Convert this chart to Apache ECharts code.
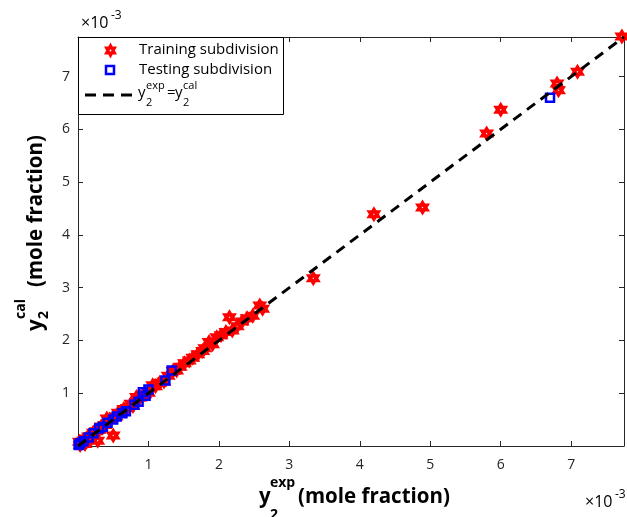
<!DOCTYPE html>
<html>
<head>
<meta charset="utf-8">
<script src="https://cdn.jsdelivr.net/npm/echarts@6/dist/echarts.min.js"></script>
<style>html,body{margin:0;padding:0;background:#fff;}#c{width:627px;height:517px;}</style>
</head>
<body>
<div id="c"></div>
<script>
// values in units of 1e-3 mole fraction
var trainExp = [7.72, 7.09, 6.80, 6.82, 6.00, 5.80, 4.89, 4.20, 3.34, 2.62, 2.58, 2.48, 2.40, 2.33, 2.15, 2.26, 2.19, 2.10, 2.03, 1.97, 1.91, 1.86, 1.80, 1.77, 1.70, 1.63, 1.58, 1.51, 1.45, 1.40, 1.35, 1.28, 1.22, 1.16, 1.10, 1.06, 1.00, 0.95, 0.88, 0.83, 0.78, 0.75, 0.70, 0.65, 0.60, 0.57, 0.54, 0.50, 0.45, 0.41, 0.38, 0.33, 0.30, 0.28, 0.26, 0.22, 0.18, 0.15, 0.12, 0.10, 0.08, 0.05, 0.03, 0.02];
var trainCal = [7.76, 7.09, 6.87, 6.74, 6.37, 5.92, 4.52, 4.39, 3.18, 2.60, 2.66, 2.47, 2.42, 2.36, 2.44, 2.27, 2.19, 2.16, 2.10, 2.06, 1.93, 1.97, 1.85, 1.80, 1.74, 1.67, 1.62, 1.57, 1.50, 1.43, 1.42, 1.33, 1.22, 1.20, 1.13, 1.15, 1.01, 0.98, 0.92, 0.93, 0.76, 0.80, 0.72, 0.70, 0.62, 0.63, 0.56, 0.20, 0.50, 0.52, 0.40, 0.37, 0.31, 0.10, 0.28, 0.25, 0.12, 0.18, 0.14, 0.04, 0.10, 0.06, 0.02, 0.08];
var testExp = [6.70, 1.33, 1.24, 1.00, 0.92, 0.96, 0.86, 0.80, 0.68, 0.63, 0.55, 0.50, 0.42, 0.35, 0.30, 0.22, 0.15, 0.08, 0.03, 0.01];
var testCal = [6.60, 1.43, 1.24, 1.07, 1.02, 0.95, 0.84, 0.78, 0.66, 0.62, 0.56, 0.50, 0.44, 0.36, 0.33, 0.24, 0.16, 0.09, 0.05, 0.02];
var parityLine = [0, 7.75];
var axisMin = 0, axisMax = 7.75, tickStep = 1;

var FONT = '"Open Sans"';
var AX = '#262626';
var STAR_PTS = [[50,0],[64.43,25],[93.3,25],[78.87,50],[93.3,75],[64.43,75],[50,100],[35.57,75],[6.7,75],[21.13,50],[6.7,25],[35.57,25]];
var STAR = 'path://M50 0L64.43 25L93.3 25L78.87 50L93.3 75L64.43 75L50 100L35.57 75L6.7 75L21.13 50L6.7 25L35.57 25ZM50 45L45 50L50 55L55 50Z';

function zip(a, b) { return a.map(function (v, i) { return [v, b[i]]; }); }
function lab(v) { return (v > 0 && Math.abs(v - Math.round(v)) < 1e-9) ? String(Math.round(v)) : ''; }

var chart = echarts.init(document.getElementById('c'), null, { renderer: 'canvas' });

function axisBase(pos, show) {
  return {
    type: 'value', min: axisMin, max: axisMax, interval: tickStep, position: pos,
    axisLine: { show: true, onZero: false, lineStyle: { color: AX, width: 1 } },
    axisTick: { show: true, inside: true, length: 5, lineStyle: { color: AX, width: 1 } },
    axisLabel: { show: show, formatter: lab, color: AX, fontFamily: 'Open Sans', fontSize: 14 },
    splitLine: { show: false }
  };
}
var xb = axisBase('bottom', true); xb.axisLabel.margin = 12;
var xt = axisBase('top', false);
var yl = axisBase('left', true); yl.axisLabel.margin = 8;
var yr = axisBase('right', false);

var g = [];
function txt(x, y, s, size, bold, align) {
  return { type: 'text', x: x, y: y, z: 100, style: { text: s, fill: '#000', font: (bold ? 'bold ' : '') + size + 'px ' + FONT, align: align || 'left', verticalAlign: 'middle' } };
}
// x10^-3 labels
g.push(txt(81, 23, '\u00d710', 16, false));
g.push(txt(111, 16, '-3', 12, false));
g.push(txt(585, 502, '\u00d710', 16, false));
g.push(txt(615, 495, '-3', 12, false));
// x axis label
g.push(txt(259, 497, 'y', 20.5, true));
g.push(txt(270, 483, 'exp', 14, true));
g.push(txt(270, 515, '2', 14, true));
g.push(txt(298, 497, '(mole fraction)', 20.5, true));
// y axis label (rotated)
g.push({
  type: 'group', x: 36, y: 331, rotation: Math.PI / 2, z: 100,
  children: [
    txt(0, 0, 'y', 20.5, true),
    txt(12, -15, 'cal', 14, true),
    txt(12, 8, '2', 14, true),
    txt(44, 0, '(mole fraction)', 20.5, true)
  ]
});
// legend
g.push({ type: 'rect', z: 90, shape: { x: 78.5, y: 37.5, width: 205, height: 77 }, style: { fill: '#fff', stroke: '#000', lineWidth: 1 } });
g.push({ type: 'polygon', z: 95, shape: { points: STAR_PTS.map(function (p) { return [103 + p[0] * 0.15, 42.5 + p[1] * 0.16]; }) }, style: { fill: '#ff0000' } });
g.push({ type: 'circle', z: 96, shape: { cx: 110.5, cy: 50.5, r: 0.9 }, style: { fill: '#fff' } });
g.push({ type: 'rect', z: 95, shape: { x: 106, y: 66, width: 8, height: 8 }, style: { fill: 'none', stroke: '#0000ff', lineWidth: 2.5 } });
g.push({ type: 'line', z: 95, shape: { x1: 85, y1: 95, x2: 133, y2: 95 }, style: { stroke: '#000', lineWidth: 3, lineDash: [11, 7] } });
g.push(txt(139, 50, 'Training subdivision', 15, false));
g.push(txt(139, 70, 'Testing subdivision', 15, false));
g.push(txt(138, 93, 'y', 15, false));
g.push(txt(146, 86, 'exp', 11, false));
g.push(txt(146, 103, '2', 11, false));
g.push(txt(167, 93, '=', 15, false));
g.push(txt(175, 93, 'y', 15, false));
g.push(txt(183, 86, 'cal', 11, false));
g.push(txt(183, 103, '2', 11, false));

chart.setOption({
  animation: false,
  backgroundColor: '#fff',
  grid: { left: 78, right: 1, top: 37, bottom: 71, containLabel: false },
  xAxis: [xb, xt],
  yAxis: [yl, yr],
  series: [
    {
      name: 'Training subdivision', type: 'scatter', xAxisIndex: 0, yAxisIndex: 0, clip: false,
      symbol: STAR, symbolSize: [15, 16], data: zip(trainExp, trainCal),
      itemStyle: { color: '#ff0000', opacity: 1 }, z: 2
    },
    {
      name: 'Testing subdivision', type: 'scatter', xAxisIndex: 0, yAxisIndex: 0, clip: false,
      symbol: 'rect', symbolSize: 8, data: zip(testExp, testCal),
      itemStyle: { color: 'rgba(0,0,0,0)', borderColor: '#0000ff', borderWidth: 2.5, opacity: 1 }, z: 3
    },
    {
      name: 'parity', type: 'line', xAxisIndex: 0, yAxisIndex: 0, symbol: 'none', clip: false,
      data: zip(parityLine, parityLine),
      lineStyle: { color: '#000', width: 3, type: [10, 7] }, z: 4
    }
  ],
  graphic: g
});
</script>
</body>
</html>
